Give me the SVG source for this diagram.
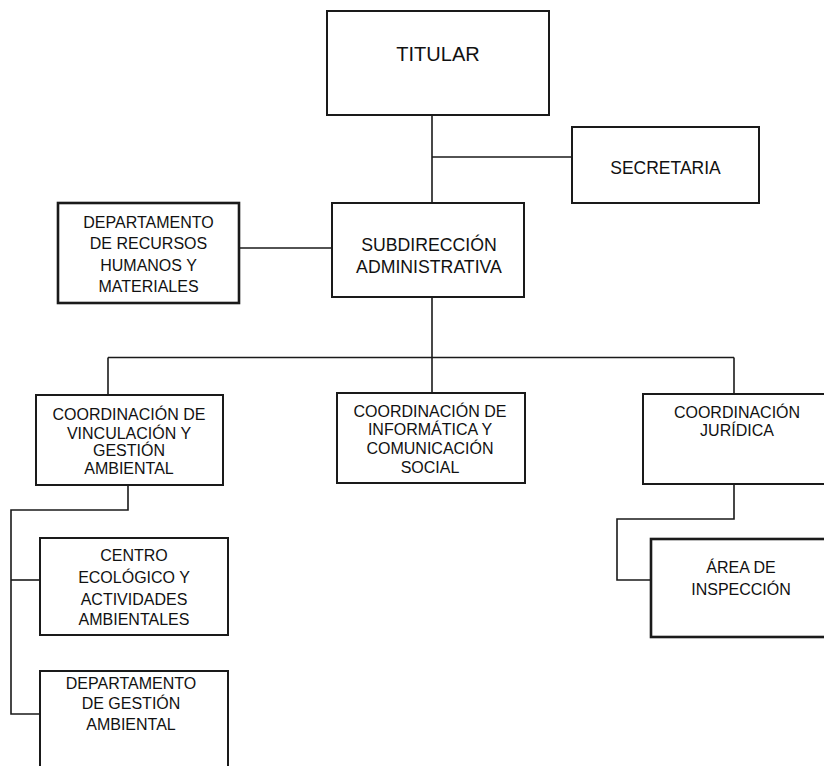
<svg xmlns="http://www.w3.org/2000/svg" width="824" height="766" viewBox="0 0 824 766">
<style>
.box{fill:#fff;stroke:#1a1a1a;stroke-width:2}
.bold{stroke-width:2.6}
.con{fill:none;stroke:#1a1a1a;stroke-width:1.6}
text{font-family:"Liberation Sans",Arial,sans-serif;font-size:16px;fill:#111;text-anchor:middle}
.big{font-size:17.7px}
</style>
<rect width="824" height="766" fill="#fff"/>
<g id="connectors">
<path class="con" d="M432 115V203"/>
<path class="con" d="M432 157H572"/>
<path class="con" d="M239 248H332"/>
<path class="con" d="M432 297V393"/>
<path class="con" d="M108 357.5H734"/>
<path class="con" d="M108 357.5V395"/>
<path class="con" d="M734 357.5V394"/>
<path class="con" d="M128 485V510H11V714H40"/>
<path class="con" d="M11 580H40"/>
<path class="con" d="M734 484V519H617V580H651"/>
</g>
<g id="titular">
<rect class="box" x="327" y="11" width="222" height="104"/>
<text x="438" y="61" style="font-size:20px">TITULAR</text>
</g>
<g id="secretaria">
<rect class="box" x="572" y="127" width="187" height="76"/>
<text x="665.5" y="174" style="font-size:17.5px">SECRETARIA</text>
</g>
<g id="subdireccion">
<rect class="box" x="332" y="203" width="192" height="94"/>
<text class="big" x="429" y="251.3">SUBDIRECCIÓN</text>
<text class="big" x="429" y="273">ADMINISTRATIVA</text>
</g>
<g id="recursos">
<rect class="box bold" x="58" y="203" width="181" height="100"/>
<text x="148.5" y="227.5">DEPARTAMENTO</text>
<text x="148.5" y="249">DE RECURSOS</text>
<text x="148.5" y="270.5">HUMANOS Y</text>
<text x="148.5" y="291.5">MATERIALES</text>
</g>
<g id="vinculacion">
<rect class="box" x="36" y="395" width="187" height="90"/>
<text x="129" y="420">COORDINACIÓN DE</text>
<text x="129" y="438.5">VINCULACIÓN Y</text>
<text x="129" y="456">GESTIÓN</text>
<text x="129" y="474">AMBIENTAL</text>
</g>
<g id="informatica">
<rect class="box" x="337" y="393" width="188" height="90"/>
<text x="430" y="416.5">COORDINACIÓN DE</text>
<text x="430" y="435">INFORMÁTICA Y</text>
<text x="430" y="453.5">COMUNICACIÓN</text>
<text x="430" y="472.5">SOCIAL</text>
</g>
<g id="juridica">
<rect class="box" x="643" y="394" width="200" height="90"/>
<text x="737" y="417.5">COORDINACIÓN</text>
<text x="737" y="436">JURÍDICA</text>
</g>
<g id="inspeccion">
<rect class="box bold" x="651" y="539" width="200" height="98"/>
<text x="741" y="573">ÁREA DE</text>
<text x="741" y="594.5">INSPECCIÓN</text>
</g>
<g id="centro">
<rect class="box" x="40" y="538" width="188" height="97"/>
<text x="134" y="561">CENTRO</text>
<text x="134" y="583">ECOLÓGICO Y</text>
<text x="134" y="604.5">ACTIVIDADES</text>
<text x="134" y="625">AMBIENTALES</text>
</g>
<g id="gestion">
<rect class="box" x="40" y="671" width="188" height="120"/>
<text x="131" y="689">DEPARTAMENTO</text>
<text x="131" y="709">DE GESTIÓN</text>
<text x="131" y="730">AMBIENTAL</text>
</g>
</svg>
